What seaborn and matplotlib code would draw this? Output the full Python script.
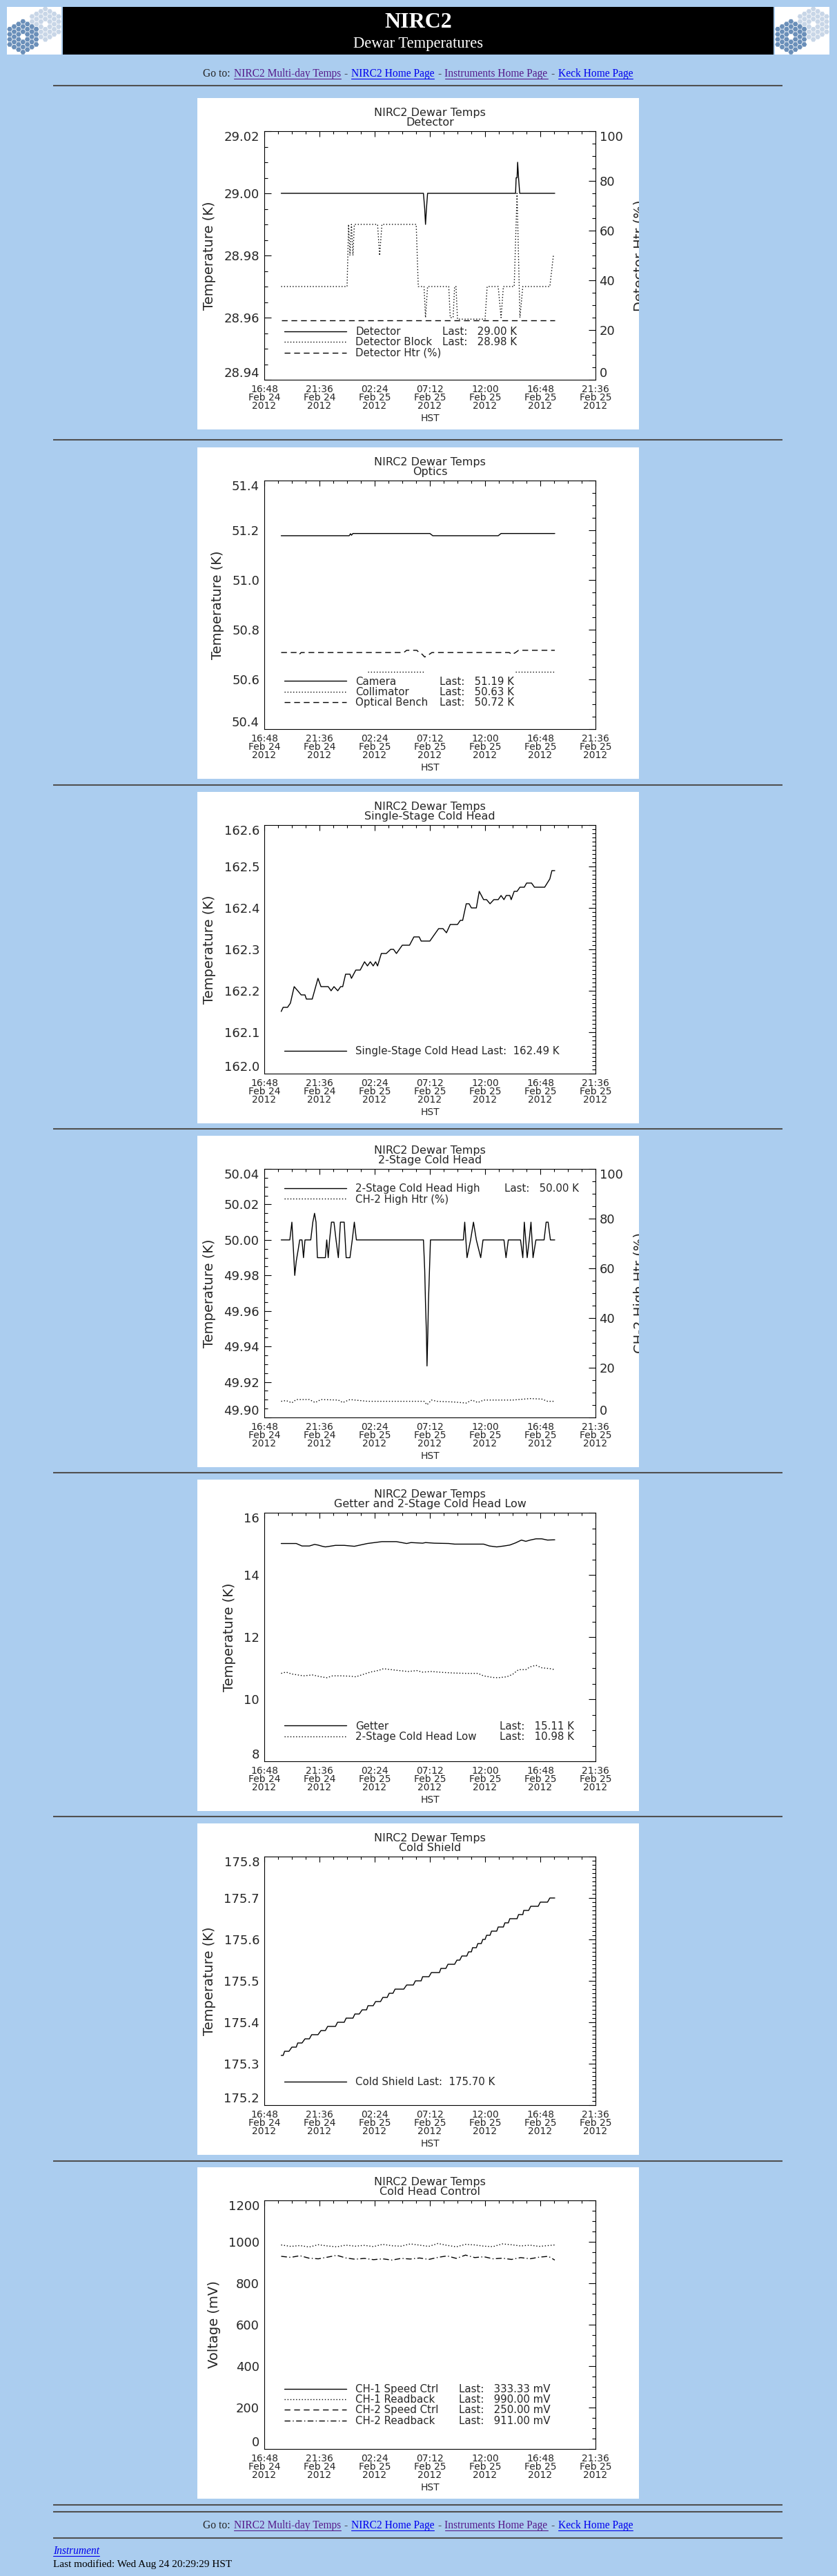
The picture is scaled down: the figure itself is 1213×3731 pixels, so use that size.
#!/usr/bin/env python3
"""
NIRC2 Dewar Temperatures page: seven 24 h housekeeping plots
(Feb 24-25 2012, HST) stacked on the light-blue web page.
"""

import numpy as np
import pandas as pd
import matplotlib
matplotlib.use("Agg")
import matplotlib.pyplot as plt
import matplotlib.ticker as mticker
from matplotlib.lines import Line2D
from matplotlib.patches import Rectangle, RegularPolygon
import seaborn as sns

sns.set_style("white")
plt.rcParams["font.family"] = ["DejaVu Sans"]

W, H = 1213, 3731
PAGE_BG = "#abcdef"
INK = "#262626"
LINK = "#0000ee"
VISITED = "#551a8b"
SERIF = ["Liberation Serif", "DejaVu Serif"]

PANEL_X, PANEL_W, PANEL_H = 286, 640, 480
PANEL_TOPS = [142, 648, 1147, 1645, 2143, 2641, 3139]
RULES_Y = [124, 637, 1137, 1635, 2133, 2631, 3130, 3628, 3638, 3676]

SOLID, DOTTED, DASHED, DASHDOT = "-", (0, (1, 2)), (0, (6, 4)), (0, (6, 2.5, 1, 2.5))

# time axis: hours after 16:48 HST Feb 24 2012
X_MAX = 28.8
XTICK_LABELS = ["16:48\nFeb 24\n2012", "21:36\nFeb 24\n2012", "02:24\nFeb 25\n2012",
                "07:12\nFeb 25\n2012", "12:00\nFeb 25\n2012", "16:48\nFeb 25\n2012",
                "21:36\nFeb 25\n2012"]

# ---- Detector ------------------------------------------------------------
DET_T = [1.47, 13.84, 13.95, 14.02, 14.10, 14.20, 21.85, 21.90, 21.98, 22.03, 22.11, 22.21, 25.26]
DET_V = [29.00, 29.00, 28.995, 28.99, 28.995, 29.00, 29.00, 29.005, 29.005, 29.01, 29.005, 29.00, 29.00]
BLOCK_T = [1.47, 7.20, 7.33, 7.45, 7.58, 7.71, 7.83, 9.85, 10.03, 10.23, 13.21, 13.39, 13.89,
           14.02, 14.20, 16.04, 16.17, 16.42, 16.55, 16.67, 16.80, 19.20, 19.38, 20.34, 20.59,
           20.79, 21.73, 21.98, 22.23, 22.48, 24.83, 25.14]
BLOCK_V = [28.97, 28.97, 28.99, 28.98, 28.99, 28.98, 28.99, 28.99, 28.98, 28.99, 28.99, 28.97, 28.97,
           28.96, 28.97, 28.97, 28.96, 28.96, 28.97, 28.97, 28.9595, 28.9595, 28.97, 28.97, 28.96,
           28.97, 28.97, 29.00, 28.96, 28.97, 28.97, 28.98]
DET_HTR_T = [1.47, 25.26]
DET_HTR_V = [24.0, 24.0]

# ---- Optics --------------------------------------------------------------
CAM_T = [1.47, 7.38, 7.50, 7.58, 7.71, 7.88, 14.40, 14.65, 20.34, 20.59, 25.26]
CAM_V = [51.178, 51.178, 51.186, 51.180, 51.187, 51.187, 51.187, 51.178, 51.178, 51.187, 51.187]
COLL_T = [8.97, 13.89, 21.85, 25.26]
COLL_V = [50.63, 50.63, 50.63, 50.63]
COLL_SEG = [0, 0, 1, 1]
BENCH_T = [1.47, 2.78, 3.03, 3.21, 12.13, 12.38, 13.26, 13.47, 13.64, 13.95, 14.15, 14.32,
           14.58, 21.30, 21.55, 21.73, 21.85, 22.11, 25.26]
BENCH_V = [50.708, 50.708, 50.70, 50.708, 50.708, 50.717, 50.717, 50.708, 50.705, 50.69, 50.695,
           50.70, 50.708, 50.708, 50.70, 50.705, 50.708, 50.717, 50.717]

# ---- Single-stage cold head ---------------------------------------------
SS_T = [1.47, 1.64, 2.02, 2.27, 2.60, 2.91, 3.21, 3.54, 3.66, 4.17,
        4.67, 4.93, 5.56, 5.81, 6.06, 6.39, 6.64, 6.82, 7.07, 7.45,
        7.58, 7.96, 8.34, 8.72, 8.97, 9.22, 9.47, 9.68, 9.85, 10.18,
        10.61, 10.99, 11.24, 11.49, 12.00, 12.63, 13.01, 13.47, 13.64, 14.40,
        14.65, 15.16, 15.54, 15.84, 16.17, 16.80, 17.05, 17.25, 17.56, 17.81,
        18.01, 18.44, 18.69, 19.07, 19.33, 19.63, 19.96, 20.34, 20.59, 20.84,
        21.04, 21.35, 21.47, 21.73, 21.98, 22.23, 22.61, 22.81, 23.24, 23.49,
        24.38, 24.83, 25.01, 25.26]
SS_V = [162.15, 162.16, 162.16, 162.17, 162.21, 162.20, 162.19, 162.19, 162.18, 162.18,
        162.23, 162.21, 162.21, 162.20, 162.21, 162.20, 162.21, 162.21, 162.24, 162.24,
        162.23, 162.25, 162.25, 162.27, 162.26, 162.27, 162.26, 162.27, 162.26, 162.29,
        162.29, 162.30, 162.30, 162.29, 162.31, 162.31, 162.33, 162.33, 162.32, 162.32,
        162.33, 162.35, 162.35, 162.34, 162.36, 162.36, 162.37, 162.37, 162.41, 162.41,
        162.40, 162.40, 162.44, 162.42, 162.42, 162.41, 162.42, 162.42, 162.43, 162.42,
        162.43, 162.43, 162.42, 162.44, 162.44, 162.45, 162.45, 162.46, 162.46, 162.45,
        162.45, 162.47, 162.49, 162.49]

# ---- 2-stage cold head high ---------------------------------------------
CH2_T = [1.47, 2.22, 2.40, 2.53, 2.65, 2.78, 2.96, 3.08, 3.28, 3.41,
         3.54, 4.04, 4.22, 4.37, 4.50, 4.62, 5.31, 5.43, 5.56, 5.68,
         5.84, 6.06, 6.24, 6.44, 6.62, 6.95, 7.12, 7.45, 7.65, 7.83,
         8.01, 13.84, 13.95, 14.02, 14.10, 14.15, 14.22, 14.27, 14.35, 14.45,
         17.31, 17.43, 17.63, 17.94, 18.19, 18.44, 18.82, 19.02, 20.84, 21.02,
         21.22, 22.28, 22.48, 22.61, 22.86, 23.04, 23.19, 23.37, 23.62, 24.33,
         24.51, 24.68, 24.88, 25.26]
CH2_V = [50.000, 50.000, 50.010, 49.995, 49.980, 49.988, 49.995, 50.000, 50.000, 49.990,
         50.000, 50.000, 50.010, 50.015, 50.010, 49.990, 49.990, 50.000, 49.990, 50.000,
         50.010, 50.010, 50.000, 49.990, 50.010, 50.010, 49.990, 49.990, 50.000, 50.010,
         50.000, 50.000, 49.983, 49.964, 49.947, 49.929, 49.947, 49.964, 49.980, 50.000,
         50.000, 50.010, 49.990, 50.000, 50.010, 50.000, 49.990, 50.000, 50.000, 49.990,
         50.000, 50.000, 49.990, 50.010, 49.990, 50.000, 50.010, 49.990, 50.000, 50.000,
         50.010, 50.010, 50.000, 50.000]
CH2_HTR_T = [1.47, 1.89, 2.40, 2.78, 3.92, 4.42, 4.93, 6.44, 6.82, 7.45, 8.97, 11.49, 13.89,
             14.15, 14.53, 15.03, 16.55, 17.56, 18.06, 18.57, 19.07, 21.60, 22.61, 23.12,
             24.13, 24.63, 25.26]
CH2_HTR_V = [6.5, 6.8, 5.9, 7.2, 7.2, 6.0, 7.2, 7.0, 6.0, 7.2, 6.5, 6.5, 6.5,
             5.1, 7.0, 6.5, 6.2, 5.8, 7.0, 6.0, 7.0, 7.0, 7.4, 7.6,
             7.4, 6.5, 6.5]

# ---- Getter and 2-stage cold head low -----------------------------------
GET_T = [1.47, 2.78, 3.28, 3.92, 4.37, 4.67, 5.05, 5.31, 5.68, 6.19, 6.95, 7.83, 8.34,
         8.97, 9.60, 10.23, 11.49, 12.38, 12.76, 13.77, 14.02, 14.78, 16.04, 16.55, 19.07,
         19.58, 20.21, 20.84, 21.35, 21.85, 22.36, 22.74, 23.12, 23.62, 24.13, 24.63, 25.26]
GET_V = [15.01, 15.01, 14.93, 14.93, 14.98, 14.96, 14.92, 14.90, 14.92, 14.95, 14.95, 14.92, 14.96,
         15.01, 15.04, 15.07, 15.07, 15.01, 15.04, 15.02, 15.04, 15.02, 15.01, 14.99, 14.99,
         14.93, 14.90, 14.93, 14.96, 15.03, 15.12, 15.08, 15.12, 15.16, 15.16, 15.12, 15.13]
LOW_T = [1.47, 1.89, 2.40, 2.91, 3.41, 4.17, 4.93, 5.43, 5.94, 6.69, 7.45, 7.96, 8.46,
         9.22, 9.98, 10.36, 11.49, 12.51, 13.26, 13.77, 14.53, 15.54, 16.55, 17.56, 18.57,
         19.07, 19.83, 20.34, 21.09, 21.60, 22.11, 22.74, 23.12, 23.62, 24.13, 24.88, 25.26]
LOW_V = [10.83, 10.87, 10.81, 10.78, 10.75, 10.78, 10.72, 10.69, 10.75, 10.75, 10.74, 10.72, 10.78,
         10.87, 10.93, 10.98, 10.93, 10.89, 10.92, 10.87, 10.89, 10.86, 10.84, 10.83, 10.83,
         10.75, 10.70, 10.69, 10.72, 10.80, 10.95, 10.95, 11.04, 11.09, 11.01, 10.98, 10.95]

# ---- Cold shield: flat steps of the staircase (start, end, level) --------
SHIELD_START = [1.47, 1.77, 2.40, 2.91, 3.54, 4.12, 4.93, 5.51, 6.37, 7.12, 7.88, 8.51, 9.02,
                9.68, 10.31, 10.86, 11.37, 12.38, 13.14, 13.77, 14.53, 15.36, 15.97, 16.75,
                17.18, 17.76, 18.11, 18.57, 19.00, 19.33, 19.76, 20.34, 20.92, 21.35, 22.11,
                22.56, 23.17, 24.00, 24.83]
SHIELD_END = [1.64, 2.15, 2.78, 3.28, 3.92, 4.67, 5.31, 6.19, 6.95, 7.71, 8.26, 8.89, 9.47,
              10.11, 10.69, 11.19, 12.13, 12.96, 13.64, 14.32, 15.23, 15.79, 16.55, 17.00,
              17.61, 18.01, 18.44, 18.87, 19.20, 19.63, 20.21, 20.79, 21.22, 21.98, 22.48,
              22.99, 23.82, 24.63, 25.26]
SHIELD_LEVEL = [175.32, 175.33, 175.34, 175.35, 175.36, 175.37, 175.38, 175.39, 175.40, 175.41,
                175.42, 175.43, 175.44, 175.45, 175.46, 175.47, 175.48, 175.49, 175.50, 175.51,
                175.52, 175.53, 175.54, 175.55, 175.56, 175.57, 175.58, 175.59, 175.60, 175.61,
                175.62, 175.63, 175.64, 175.65, 175.66, 175.67, 175.68, 175.69, 175.70]

# ---- Cold head control (speed ctrl channels have no points in range) ----
CTRL_T = [1.47, 2.3, 3.1, 3.9, 4.7, 5.5, 6.3, 7.1, 7.9, 8.7, 9.5, 10.3, 11.1, 11.9, 12.7, 13.5,
          14.3, 15.1, 15.9, 16.7, 17.5, 18.3, 19.1, 19.9, 20.7, 21.5, 22.3, 23.1, 23.9, 24.7, 25.26]
CH1_RB = [985, 978, 982, 975, 986, 980, 976, 984, 979, 983, 977, 988, 981, 979, 990, 984,
          978, 992, 983, 976, 988, 985, 979, 977, 990, 986, 980, 984, 978, 982, 985]
CH2_RB = [930, 925, 933, 921, 918, 926, 935, 922, 916, 920, 914, 918, 912, 920, 917, 922,
          915, 925, 932, 920, 936, 924, 928, 918, 921, 915, 924, 918, 926, 930, 912]


def px_rect(x, y, w, h):
    return [x / W, 1 - (y + h) / H, w / W, h / H]


def set_y(ax, lo, hi, step, sub, fmt, label_attr):
    n = int(round((hi - lo) / step)) + 1
    ax.set_ylim(lo, hi)
    ax.set_yticks(np.linspace(lo, hi, n))
    ax.yaxis.set_minor_locator(mticker.MultipleLocator(step / sub))
    ax.yaxis.set_major_formatter(mticker.FormatStrFormatter(fmt))
    ticks = ax.yaxis.get_major_ticks()
    # end labels sit inside the axis range, like IDL does
    getattr(ticks[0], label_attr).set_va("bottom")
    getattr(ticks[-1], label_attr).set_va("top")


def trace(ax, t, v, ls, units=None):
    df = pd.DataFrame({"hours": t, "value": v})
    kw = {}
    if units is not None:
        df["seg"] = units
        kw["units"] = "seg"
    sns.lineplot(data=df, x="hours", y="value", ax=ax, color="black", linewidth=1.0,
                 linestyle=ls, sort=False, estimator=None, legend=False, **kw)


def new_panel(fig, bg, top, twin):
    white = Rectangle((PANEL_X, top), PANEL_W, PANEL_H, facecolor="white", edgecolor="none")
    bg.add_patch(white)
    ax = fig.add_axes(px_rect(PANEL_X + 97, top + 48, 480, 360))
    ax2 = ax.twinx() if twin else None
    return ax, ax2, white


def style_panel(ax, title, ylabel, ylim, yfmt, ax2=None, rlabel=None, white=None):
    lo, hi, step, sub = ylim
    ax.set_facecolor("white")
    ax.set_xlim(0, X_MAX)
    ax.tick_params(which="both", direction="in", top=True, right=ax2 is None,
                   color="black", width=0.8, labelcolor=INK)
    ax.tick_params(axis="y", which="major", length=7.2, labelsize=13, pad=5)
    ax.tick_params(axis="y", which="minor", length=3.6)
    ax.tick_params(axis="x", which="major", length=5.5, labelsize=10, pad=5)
    ax.tick_params(axis="x", which="minor", length=3)
    ax.set_xticks(np.linspace(0, X_MAX, 7))
    ax.set_xticklabels(XTICK_LABELS, linespacing=0.82)
    ax.xaxis.set_minor_locator(mticker.MultipleLocator(1.2))
    set_y(ax, lo, hi, step, sub, yfmt, "label1")
    ax.set_xlabel("HST", fontsize=10, labelpad=3, color=INK)
    ax.set_ylabel(ylabel, fontsize=14, labelpad=8, color=INK)
    ax.set_title(title, fontsize=11.5, linespacing=0.85, pad=6, color=INK)
    for s in ax.spines.values():
        s.set_linewidth(0.8)
        s.set_color("black")
    if ax2 is not None:
        ax2.tick_params(which="both", direction="in", right=True, color="black",
                        width=0.8, labelcolor=INK)
        ax2.tick_params(axis="y", which="major", length=7.2, labelsize=13, pad=4)
        ax2.tick_params(axis="y", which="minor", length=3.6)
        set_y(ax2, 0, 100, 20, 4, "%d", "label2")
        # the plot image is cropped at the white box, cutting the right label
        ax2.set_ylabel(rlabel, fontsize=14, labelpad=11, color=INK)
        ax2.yaxis.label.set_clip_path(white)
        for s in ax2.spines.values():
            s.set_visible(False)


def add_legend(ax, styles, names, lasts, x0, y_first, x_last=None):
    row = 17.6 / 360
    top = y_first + 0.5 * row
    handles = [Line2D([], [], color="black", lw=1.0, linestyle=s) for s in styles]
    common = dict(loc="upper left", frameon=False, fontsize=10.8, borderpad=0,
                  borderaxespad=0, labelspacing=0.02, labelcolor=INK)
    leg = ax.legend(handles, names, bbox_to_anchor=(x0, top), handlelength=6.0,
                    handletextpad=0.85, **common)
    if lasts:
        ax.add_artist(leg)
        blanks = [Line2D([], [], alpha=0) for _ in lasts]
        ax.legend(blanks, lasts, bbox_to_anchor=(x_last, top), handlelength=0,
                  handletextpad=0, **common)


def mirror(bg, cx, cy, color, clip):
    size = 4.27
    for q in range(-3, 4):
        for r in range(-3, 4):
            if max(abs(q), abs(r), abs(q + r)) > 3 or (q == 0 and r == 0):
                continue
            seg = RegularPolygon((cx + 1.5 * size * q, cy + np.sqrt(3) * size * (r + q / 2)), 6,
                                 radius=3.8, orientation=np.pi / 6, facecolor=color,
                                 edgecolor="none")
            bg.add_patch(seg)
            seg.set_clip_path(clip)


def nav_line(bg, renderer, y):
    pieces = [("Go to:", INK, False), ("NIRC2 Multi-day Temps", VISITED, True), ("-", INK, False),
              ("NIRC2 Home Page", LINK, True), ("-", INK, False),
              ("Instruments Home Page", VISITED, True), ("-", INK, False),
              ("Keck Home Page", LINK, True)]
    x = 294
    for txt, color, underline in pieces:
        t = bg.text(x, y, txt, color=color, fontsize=11.2, family=SERIF, va="baseline", ha="left")
        bb = t.get_window_extent(renderer)
        if underline:
            bg.plot([bb.x0, bb.x1], [y + 3, y + 3], color=color, lw=0.8)
        x = bb.x1 + 5


def main():
    fig = plt.figure(figsize=(W / 100, H / 100), dpi=100, facecolor=PAGE_BG)
    bg = fig.add_axes([0, 0, 1, 1], zorder=-1)
    bg.set_xlim(0, W)
    bg.set_ylim(H, 0)
    bg.axis("off")
    renderer = fig.canvas.get_renderer()

    # header: logos + black banner
    for lx in (10, 1123):
        box = Rectangle((lx, 10), 79, 69, facecolor="white", edgecolor="none")
        bg.add_patch(box)
        mirror(bg, lx + 55.7, 35, "#c8d6e7", box)
        mirror(bg, lx + 23.3, 53.3, "#6a8fb9", box)
    bg.add_patch(Rectangle((91, 10), 1030, 69, facecolor="black", edgecolor="none"))
    bg.text(606, 33, "NIRC2", color="white", fontsize=23, fontweight="bold", family=SERIF,
            ha="center", va="center")
    bg.text(606, 63, "Dewar Temperatures", color="white", fontsize=16.3, family=SERIF,
            ha="center", va="center")

    nav_line(bg, renderer, 111)
    nav_line(bg, renderer, 3662)
    for y in RULES_Y:
        bg.plot([77, 1134], [y, y], color="#505050", lw=1.5, solid_capstyle="butt")
    t = bg.text(77, 3699, "Instrument", color=LINK, fontsize=11.2, family=SERIF,
                style="italic", va="baseline")
    bb = t.get_window_extent(renderer)
    bg.plot([bb.x0, bb.x1], [3702, 3702], color=LINK, lw=0.8)
    bg.text(77, 3718, "Last modified: Wed Aug 24 20:29:29 HST", color="black", fontsize=11,
            family=SERIF, va="baseline")

    # 1. Detector
    ax, ax2, white = new_panel(fig, bg, PANEL_TOPS[0], True)
    trace(ax, DET_T, DET_V, SOLID)
    trace(ax, BLOCK_T, BLOCK_V, DOTTED)
    trace(ax2, DET_HTR_T, DET_HTR_V, DASHED)
    style_panel(ax, "NIRC2 Dewar Temps\nDetector", "Temperature (K)", (28.94, 29.02, 0.02, 4),
                "%.2f", ax2, "Detector Htr (%)", white)
    add_legend(ax2, [SOLID, DOTTED, DASHED], ["Detector", "Detector Block", "Detector Htr (%)"],
               ["Last:   29.00 K", "Last:   28.98 K"], 0.061, 0.189, 0.537)

    # 2. Optics
    ax, _, white = new_panel(fig, bg, PANEL_TOPS[1], False)
    trace(ax, CAM_T, CAM_V, SOLID)
    trace(ax, COLL_T, COLL_V, DOTTED, units=COLL_SEG)
    trace(ax, BENCH_T, BENCH_V, DASHED)
    style_panel(ax, "NIRC2 Dewar Temps\nOptics", "Temperature (K)", (50.4, 51.4, 0.2, 4), "%.1f")
    add_legend(ax, [SOLID, DOTTED, DASHED], ["Camera", "Collimator", "Optical Bench"],
               ["Last:   51.19 K", "Last:   50.63 K", "Last:   50.72 K"], 0.061, 0.188, 0.53)

    # 3. Single-stage cold head
    ax, _, white = new_panel(fig, bg, PANEL_TOPS[2], False)
    trace(ax, SS_T, SS_V, SOLID)
    style_panel(ax, "NIRC2 Dewar Temps\nSingle-Stage Cold Head", "Temperature (K)",
                (162.0, 162.6, 0.1, 10), "%.1f")
    add_legend(ax, [SOLID], ["Single-Stage Cold Head Last:  162.49 K"], None, 0.061, 0.087)

    # 4. 2-stage cold head
    ax, ax2, white = new_panel(fig, bg, PANEL_TOPS[3], True)
    trace(ax, CH2_T, CH2_V, SOLID)
    trace(ax2, CH2_HTR_T, CH2_HTR_V, DOTTED)
    style_panel(ax, "NIRC2 Dewar Temps\n2-Stage Cold Head", "Temperature (K)",
                (49.90, 50.04, 0.02, 4), "%.2f", ax2, "CH-2 High Htr (%)", white)
    add_legend(ax2, [SOLID, DOTTED], ["2-Stage Cold Head High", "CH-2 High Htr (%)"],
               ["Last:   50.00 K"], 0.061, 0.916, 0.724)

    # 5. Getter and 2-stage cold head low
    ax, _, white = new_panel(fig, bg, PANEL_TOPS[4], False)
    trace(ax, GET_T, GET_V, SOLID)
    trace(ax, LOW_T, LOW_V, DOTTED)
    style_panel(ax, "NIRC2 Dewar Temps\nGetter and 2-Stage Cold Head Low", "Temperature (K)",
                (8, 16, 2, 4), "%d")
    add_legend(ax, [SOLID, DOTTED], ["Getter", "2-Stage Cold Head Low"],
               ["Last:   15.11 K", "Last:   10.98 K"], 0.061, 0.138, 0.71)

    # 6. Cold shield
    ax, _, white = new_panel(fig, bg, PANEL_TOPS[5], False)
    shield_t = [t for pair in zip(SHIELD_START, SHIELD_END) for t in pair]
    shield_v = [v for v in SHIELD_LEVEL for _ in range(2)]
    trace(ax, shield_t, shield_v, SOLID)
    style_panel(ax, "NIRC2 Dewar Temps\nCold Shield", "Temperature (K)",
                (175.2, 175.8, 0.1, 10), "%.1f")
    add_legend(ax, [SOLID], ["Cold Shield Last:  175.70 K"], None, 0.061, 0.0885)

    # 7. Cold head control
    ax, _, white = new_panel(fig, bg, PANEL_TOPS[6], False)
    trace(ax, CTRL_T, CH1_RB, DOTTED)
    trace(ax, CTRL_T, CH2_RB, DASHDOT)
    style_panel(ax, "NIRC2 Dewar Temps\nCold Head Control", "Voltage (mV)",
                (0, 1200, 200, 4), "%d")
    add_legend(ax, [SOLID, DOTTED, DASHED, DASHDOT],
               ["CH-1 Speed Ctrl", "CH-1 Readback", "CH-2 Speed Ctrl", "CH-2 Readback"],
               ["Last:   333.33 mV", "Last:   990.00 mV", "Last:   250.00 mV", "Last:   911.00 mV"],
               0.061, 0.237, 0.588)

    fig.savefig("out.png", dpi=100, facecolor=PAGE_BG)
    plt.close(fig)


if __name__ == "__main__":
    main()
